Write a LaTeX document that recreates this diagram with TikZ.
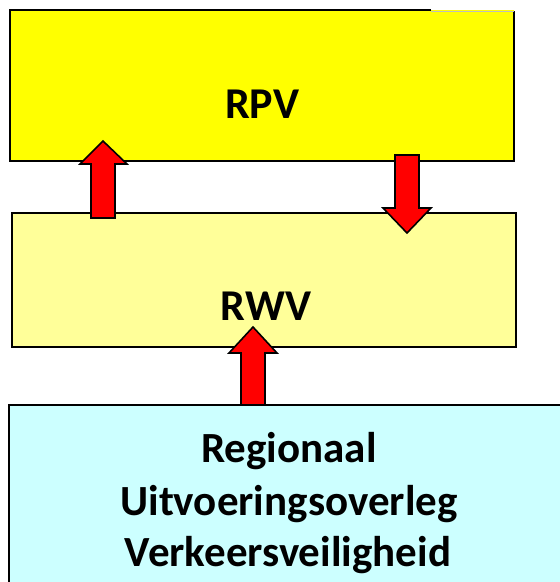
\documentclass[tikz,border=0pt]{standalone}
\usepackage{fontspec}
\setmainfont{Carlito}
\definecolor{rpvyellow}{HTML}{FFFF00}
\definecolor{rwvyellow}{HTML}{FFFF99}
\definecolor{ruocyan}{HTML}{CCFFFF}
\definecolor{arrowred}{HTML}{FF0000}
\tikzset{
  boxline/.style={line width=2pt, draw=black},
  lbl/.style={font=\bfseries\fontsize{44}{52}\selectfont, anchor=base, inner sep=0pt},
  ruolbl/.style={font=\bfseries\fontsize{43}{52}\selectfont, anchor=base, inner sep=0pt},
  blockarrow/.style={fill=arrowred, draw=black, line width=1.6pt, line join=miter},
}
\begin{document}
\begin{tikzpicture}[x=1pt,y=-1pt]
\useasboundingbox (0,0) rectangle (560,582);
% RPV box
\fill[rpvyellow] (10,10) rectangle (514,161);
\draw[boxline] (431,10) -- (10,10) -- (10,161) -- (514,161) -- (514,11);
\draw[line width=0.6pt, draw=black!25] (431,11) -- (514,11);
\node[lbl] (rpv) at (262,118) {RPV};
% RWV box
\filldraw[rwvyellow, boxline] (12,213) rectangle (516,347);
\node[lbl] (rwv) at (266,320) {RWV};
% Regionaal box
\filldraw[ruocyan, boxline] (9,405) rectangle (575,600);
\node[ruolbl] (ruo1) at (289,462) {Regionaal};
\node[ruolbl] (ruo2) at (289,515) {Uitvoeringsoverleg};
\node[ruolbl] (ruo3) at (288,566) {Verkeersveiligheid};
% arrows
\coordinate (a1tip) at (103,141);
\coordinate (a1end) at (103,218);
\draw[blockarrow] (91,218) -- (91,164) -- (80,164) -- (a1tip) -- (127,164) -- (115,164) -- (115,218) -- cycle;
\coordinate (a2tip) at (407,233);
\coordinate (a2end) at (407,155);
\draw[blockarrow] (395,155) -- (395,208) -- (383,208) -- (a2tip) -- (431,208) -- (419,208) -- (419,155) -- cycle;
\coordinate (a3tip) at (253,327);
\coordinate (a3end) at (253,405);
\draw[blockarrow] (241,405) -- (241,353) -- (229,353) -- (a3tip) -- (277,353) -- (265,353) -- (265,405) -- cycle;
\end{tikzpicture}
\end{document}
